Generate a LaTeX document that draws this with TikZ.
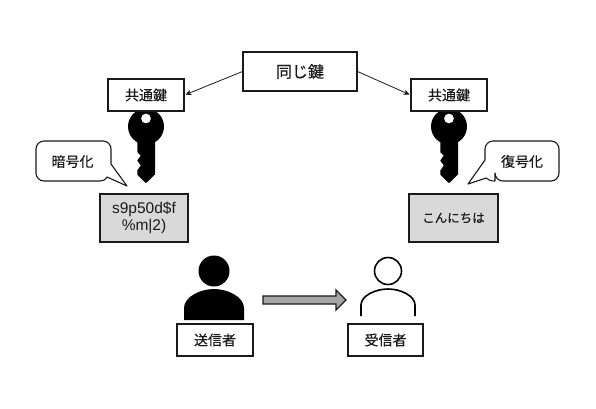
\documentclass[tikz,border=0pt]{standalone}
\usepackage{fontspec}
\setmainfont[FakeBold=0.25]{Noto Sans CJK JP}
\newfontfamily\latinfont{Liberation Sans}
\usetikzlibrary{arrows.meta}
\definecolor{ink}{HTML}{1A1A1A}
\definecolor{panel}{HTML}{D9D9D9}
\definecolor{blockarrow}{HTML}{A6A6A6}
\tikzset{
  labelbox/.style={draw=ink,line width=1.1pt,fill=white,inner sep=0pt,font=\fontsize{14}{16}\selectfont,text=ink},
  topbox/.style={labelbox,minimum width=114pt,minimum height=39pt,font=\fontsize{16}{18}\selectfont},
  keybox/.style={labelbox,minimum width=76pt,minimum height=32pt},
  graybox/.style={labelbox,fill=panel,minimum width=88pt,minimum height=48pt,align=center},
  callout/.style={draw=ink,line width=1.1pt,fill=white,line join=round},
  calltext/.style={inner sep=0pt,font=\fontsize{14}{16}\selectfont,text=ink},
  link/.style={draw=ink,line width=0.8pt,-{Stealth[length=6pt,width=5.5pt]},shorten >=1pt}
}
\newcommand{\keyshape}[1]{%
  \begin{scope}[shift={(#1)}]
    \fill[black,even odd rule]
      (0,0) circle[radius=18]
      (0,-8) circle[radius=5];
    \fill[black] (-8.7,14) -- (-8.7,25.7) -- (-5.3,29) -- (-8.7,34) -- (-5.3,39) -- (-8.7,44) -- (-8.7,48.3) -- (0,56.7) -- (9,48) -- (9,14) -- cycle;
  \end{scope}}
\begin{document}
\begin{tikzpicture}[x=1pt,y=-1pt]
\useasboundingbox (0,0) rectangle (596,408);
\fill[white] (0,0) rectangle (596,408);
% keys
\keyshape{146,126.5}
\keyshape{449,126.5}
% boxes
\node[topbox] (same) at (300,71.5) {同じ鍵};
\node[keybox] (kl) at (146,95) {共通鍵};
\node[keybox] (kr) at (449,95) {共通鍵};
\draw[link] (same.west) -- (kl.east);
\draw[link] (same.east) -- (kr.west);
% callouts
\draw[callout] (36,161) [rounded corners=8pt] -- (36,141) -- (111,141) -- (111,164) [sharp corners] -- (111,164) -- (127,186) -- (107,177) .. controls (105,180) and (103,181) .. (100,181) [rounded corners=8pt] -- (36,181) -- (36,161) [sharp corners] -- cycle;
\node[calltext] (enc) at (72.5,161.5) {暗号化};
\draw[callout] (559,161) [rounded corners=8pt] -- (559,181) -- (495,181) [sharp corners] -- (495,181) .. controls (491,181) and (488,180) .. (486,178) -- (468,184) -- (485,160) [rounded corners=8pt] -- (485,141) -- (559,141) -- (559,161) [sharp corners] -- cycle;
\node[calltext] (dec) at (522,161.5) {復号化};
% gray boxes
\node[graybox] (cipher) at (144,218) {\latinfont\fontsize{15.5}{17}\selectfont s9p50d\$f\\[1pt]\latinfont\fontsize{15.5}{17}\selectfont \%m|2)};
\node[graybox,minimum width=89pt,font=\fontsize{12.5}{14}\selectfont] (plain) at (453.5,218) {こんにちは};
% sender
\fill[black] (214,271) circle[radius=15.5];
\fill[black] (184,320) -- (184,308) .. controls (184,297) and (200,289) .. (214,289) .. controls (228,289) and (244,297) .. (244,308) -- (244,320) -- cycle;
\node[labelbox,minimum width=76pt,minimum height=32pt] (snd) at (215,340) {送信者};
% receiver
\draw[black,line width=1.6pt] (388,271) circle[radius=13.5];
\draw[black,line width=1.6pt] (361,316) -- (361,305) .. controls (361,296) and (375,289) .. (388,289) .. controls (401,289) and (415,296) .. (415,305) -- (415,316);
\node[labelbox,minimum width=75pt,minimum height=32pt] (rcv) at (385.5,340) {受信者};
% block arrow
\draw[draw=ink,line width=1.1pt,fill=blockarrow] (263,296) -- (336,296) -- (336,290) -- (346,300) -- (336,310) -- (336,304) -- (263,304) -- cycle;
\end{tikzpicture}
\end{document}
